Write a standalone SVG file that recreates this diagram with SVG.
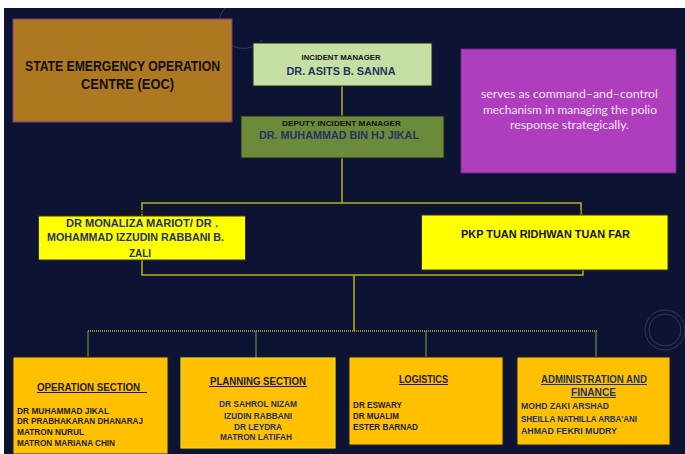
<svg xmlns="http://www.w3.org/2000/svg" width="685" height="454" viewBox="0 0 685 454">
<style>
.t{font-family:"Liberation Sans Narrow","Liberation Sans",Arial,sans-serif;font-weight:bold}
.c{text-anchor:middle}
.navy{fill:#1f3464}
.blk{fill:#111111}
.dk{fill:#1c1c30}
.lbl{fill:#141414;font-size:7.5px}
.conn{stroke:#b8b020;stroke-width:1.5;fill:none}
.drop{stroke:#6e9040;stroke-width:1.2;fill:none}
.ul{stroke-width:1}
.sec{fill:#ffc000;stroke:#222222;stroke-width:1}
.note{font-family:Lato,"Open Sans",sans-serif;font-size:12px;fill:#f3e4f5;text-anchor:middle}
</style>
<rect x="0" y="0" width="685" height="454" fill="#ffffff"/>
<rect x="4" y="8" width="681" height="446" fill="#0d1333"/>
<g fill="none" stroke="#5a6080" stroke-width="1" opacity="0.5">
<circle cx="665" cy="330" r="20"/>
<circle cx="665" cy="330" r="16"/>
<path d="M225 8 A22 22 0 0 0 262 40"/>
</g>
<g id="eoc">
<rect x="13" y="19" width="219" height="103" fill="#ad781f" stroke="#7a3a8c" stroke-width="1"/>
<text class="t c blk" x="122.5" y="71" font-size="15" textLength="195" lengthAdjust="spacingAndGlyphs">STATE EMERGENCY OPERATION</text>
<text class="t c blk" x="127.5" y="89" font-size="15" textLength="93" lengthAdjust="spacingAndGlyphs">CENTRE (EOC)</text>
</g>
<g id="note">
<rect x="461" y="49" width="215" height="124" fill="#ae3ebe" stroke="#6e2a80" stroke-width="1"/>
<text class="note" x="569.5" y="98" textLength="177" lengthAdjust="spacingAndGlyphs">serves as command–and–control</text>
<text class="note" x="570" y="113.5" textLength="174" lengthAdjust="spacingAndGlyphs">mechanism in managing the polio</text>
<text class="note" x="569.5" y="129" textLength="119" lengthAdjust="spacingAndGlyphs">response strategically.</text>
</g>
<g id="connectors">
<line class="conn" x1="342" y1="86" x2="342" y2="116"/>
<polyline class="conn" points="342,158 342,203"/>
<polyline class="conn" points="142,216 142,203 581,203 581,216"/>
<polyline class="conn" points="142,260 142,275 583,275 583,270"/>
<line class="conn" x1="354" y1="275" x2="354" y2="331"/>
<line x1="88" y1="331" x2="597" y2="331" stroke="#b8b840" stroke-width="1.5" stroke-dasharray="1 1"/>
<line class="drop" x1="88" y1="331" x2="88" y2="357"/>
<line class="drop" x1="256" y1="331" x2="256" y2="358"/>
<line class="drop" x1="426" y1="331" x2="426" y2="357"/>
<line class="drop" x1="596" y1="331" x2="596" y2="357"/>
</g>
<g id="incident-manager">
<rect x="253" y="43" width="179" height="43" fill="#c5e0a3" stroke="#222222" stroke-width="1"/>
<text class="t c blk" x="341" y="60" font-size="7.5" textLength="79" lengthAdjust="spacingAndGlyphs">INCIDENT MANAGER</text>
<text class="t c navy" x="341" y="75" font-size="11" textLength="109" lengthAdjust="spacingAndGlyphs">DR. ASITS B. SANNA</text>
</g>
<g id="deputy-incident-manager">
<rect x="241" y="116" width="203" height="42" fill="#6b8b3a" stroke="#222222" stroke-width="1"/>
<text class="t c blk" x="341.5" y="125.5" font-size="7.5" textLength="119" lengthAdjust="spacingAndGlyphs">DEPUTY INCIDENT MANAGER</text>
<text class="t c navy" x="339" y="139" font-size="11" textLength="160" lengthAdjust="spacingAndGlyphs">DR. MUHAMMAD BIN HJ JIKAL</text>
</g>
<g id="data-manager">
<text class="t c lbl" x="140.5" y="213.5" textLength="53" lengthAdjust="spacingAndGlyphs">Data Manager</text>
<rect x="38.5" y="216" width="207" height="44" fill="#ffff00" stroke="#333333" stroke-width="1"/>
<text class="t c navy" x="142" y="227" font-size="11" textLength="152" lengthAdjust="spacingAndGlyphs">DR MONALIZA MARIOT/ DR  .</text>
<text class="t c navy" x="135.5" y="241" font-size="11" textLength="177" lengthAdjust="spacingAndGlyphs">MOHAMMAD IZZUDIN RABBANI B.</text>
<text class="t c navy" x="140" y="257" font-size="11" textLength="22" lengthAdjust="spacingAndGlyphs">ZALI</text>
</g>
<g id="polio-surveillance">
<text class="t c lbl" x="545.5" y="213.5" textLength="71" lengthAdjust="spacingAndGlyphs">Polio Surveillance</text>
<rect x="421.5" y="215" width="246.5" height="55" fill="#ffff00" stroke="#333333" stroke-width="1"/>
<text class="t c blk" x="545.5" y="238" font-size="11" textLength="169" lengthAdjust="spacingAndGlyphs">PKP TUAN RIDHWAN TUAN FAR</text>
</g>
<g id="operation-section">
<rect class="sec" x="13" y="357" width="155" height="97"/>
<text class="t c dk" x="88.5" y="391" font-size="11" textLength="103" lengthAdjust="spacingAndGlyphs">OPERATION  SECTION</text>
<line class="ul" x1="37" y1="392.5" x2="147" y2="392.5" stroke="#1c1c30"/>
<text class="t dk" x="17" y="414" font-size="8.5" textLength="92" lengthAdjust="spacingAndGlyphs">DR MUHAMMAD JIKAL</text>
<text class="t dk" x="17" y="424" font-size="8.5" textLength="126" lengthAdjust="spacingAndGlyphs">DR PRABHAKARAN DHANARAJ</text>
<text class="t dk" x="17" y="434.5" font-size="8.5" textLength="67" lengthAdjust="spacingAndGlyphs">MATRON NURUL</text>
<text class="t dk" x="17" y="446" font-size="8.5" textLength="98" lengthAdjust="spacingAndGlyphs">MATRON MARIANA CHIN</text>
</g>
<g id="planning-section">
<rect x="181" y="358" width="154" height="90" fill="#ffc000" stroke="#e8e020" stroke-width="1.2"/>
<text class="t c dk" x="258" y="385" font-size="11" textLength="96" lengthAdjust="spacingAndGlyphs">PLANNING SECTION</text>
<line class="ul" x1="209" y1="386.5" x2="307" y2="386.5" stroke="#1c1c30"/>
<text class="t c navy" x="258" y="406.5" font-size="8.5" textLength="78" lengthAdjust="spacingAndGlyphs">DR SAHROL NIZAM</text>
<text class="t c navy" x="258" y="418.5" font-size="8.5" textLength="68" lengthAdjust="spacingAndGlyphs">IZUDIN RABBANI</text>
<text class="t c navy" x="258" y="429.5" font-size="8.5" textLength="48" lengthAdjust="spacingAndGlyphs">DR LEYDRA</text>
<text class="t c navy" x="256" y="439.5" font-size="8.5" textLength="72" lengthAdjust="spacingAndGlyphs">MATRON  LATIFAH</text>
</g>
<g id="logistics">
<rect class="sec" x="349" y="357" width="154" height="88"/>
<text class="t c dk" x="423.5" y="383" font-size="11" textLength="49" lengthAdjust="spacingAndGlyphs">LOGISTICS</text>
<line class="ul" x1="399" y1="384.5" x2="448" y2="384.5" stroke="#1c1c30"/>
<text class="t dk" x="353" y="407.5" font-size="8.5" textLength="49" lengthAdjust="spacingAndGlyphs">DR ESWARY</text>
<text class="t dk" x="353" y="418.5" font-size="8.5" textLength="46" lengthAdjust="spacingAndGlyphs">DR MUALIM</text>
<text class="t dk" x="353" y="429.5" font-size="8.5" textLength="65" lengthAdjust="spacingAndGlyphs">ESTER BARNAD</text>
</g>
<g id="administration-finance">
<rect class="sec" x="517" y="357" width="153" height="88"/>
<text class="t c navy" x="594" y="383" font-size="11" textLength="106" lengthAdjust="spacingAndGlyphs">ADMINISTRATION  AND</text>
<line class="ul" x1="541" y1="384.5" x2="647" y2="384.5" stroke="#1f3464"/>
<text class="t c navy" x="593.5" y="396" font-size="11" textLength="45" lengthAdjust="spacingAndGlyphs">FINANCE</text>
<line class="ul" x1="571" y1="397.5" x2="616" y2="397.5" stroke="#1f3464"/>
<text class="t navy" x="521" y="408.5" font-size="8.5" textLength="88" lengthAdjust="spacingAndGlyphs">MOHD ZAKI ARSHAD</text>
<text class="t navy" x="521" y="421.5" font-size="8.5" textLength="116" lengthAdjust="spacingAndGlyphs">SHEILLA NATHILLA ARBA'ANI</text>
<text class="t navy" x="521" y="433.5" font-size="8.5" textLength="96" lengthAdjust="spacingAndGlyphs">AHMAD FEKRI MUDRY</text>
</g>
</svg>
